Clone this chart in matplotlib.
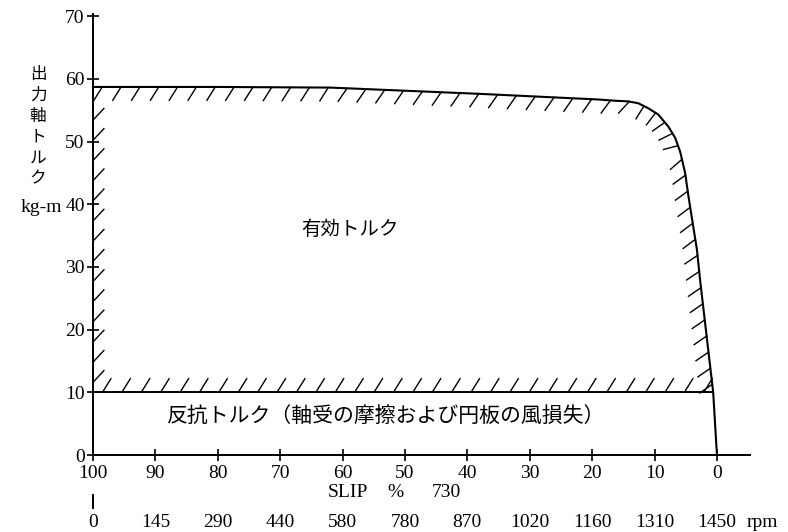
import matplotlib
matplotlib.use("Agg")
import matplotlib.pyplot as plt
import matplotlib.patheffects as pe
import matplotlib.transforms as mtransforms

# ---------- Data ----------
slip_ticks = [100, 90, 80, 70, 60, 50, 40, 30, 20, 10, 0]
rpm_labels = ["0", "145", "290", "440", "580", "780", "870", "1020", "1160", "1310", "1450"]
torque_ticks = [0, 10, 20, 30, 40, 50, 60, 70]

# output shaft torque vs slip
curve_slip = [100, 80, 62, 38, 19, 16.3, 14.2, 12.6, 11.0, 9.4, 7.8, 6.7, 5.9, 5.1, 4.6, 3.2, 2.7, 0.6, 0]
curve_torque = [58.7, 58.7, 58.6, 57.6, 56.7, 56.5, 56.4, 56.1, 55.3, 54.3, 52.4, 50.6, 48.4, 45.0, 41.5, 32.7, 27.9, 10, 0]

# resisting torque (bearing friction + disc windage)
resist_slip = [100, 0.6]
resist_torque = [10, 10]

# hatched edge along the torque axis
left_slip = [100, 100]
left_torque = [10, 55]

SERIF = ["Liberation Serif", "Noto Sans CJK JP"]
JP = ["Noto Sans CJK JP"]

# ---------- Figure ----------
fig = plt.figure(figsize=(7.88, 5.32), dpi=100)
ax = fig.add_axes([93 / 788, 77 / 532, 657 / 788, 441.4 / 532])
ax.set_xlim(100, -5.3)
ax.set_ylim(0, 70.4)

for s in ["top", "right"]:
    ax.spines[s].set_visible(False)
for s in ["left", "bottom"]:
    ax.spines[s].set_linewidth(1.4)

ax.set_xticks(slip_ticks)
ax.set_xticklabels([str(v) for v in slip_ticks])
ax.set_yticks(torque_ticks)
ax.set_yticklabels([str(v) for v in torque_ticks])
ax.tick_params(direction="inout", length=8, width=1.2, labelsize=14, colors="black")
ax.tick_params(axis="x", pad=3)
ax.tick_params(axis="y", pad=2)
for lab in ax.get_xticklabels() + ax.get_yticklabels():
    lab.set_family(SERIF)

# main curve and resisting torque line
ax.plot(curve_slip, curve_torque, color="black", lw=1.5, solid_joinstyle="round", clip_on=False)
ax.plot(resist_slip, resist_torque, color="black", lw=1.4)

# hatching (ticks only)
def hatch(xs, ys, spacing, angle, length):
    ax.plot(xs, ys, color="black", lw=0,
            path_effects=[pe.TickedStroke(spacing=spacing, angle=angle, length=length, linewidth=1.0)])

n_top = curve_slip.index(12.6) + 1
n_bend = curve_slip.index(5.9) + 1
n_end = curve_slip.index(0.6) + 1
hatch(curve_slip[:n_top], curve_torque[:n_top], 13.3, -122, 0.85)
hatch(curve_slip[n_top - 1:n_bend], curve_torque[n_top - 1:n_bend], 9.0, -95, 1.2)
hatch(curve_slip[n_bend - 1:n_end], curve_torque[n_bend - 1:n_end], 11.5, -62, 0.95)
hatch(resist_slip, resist_torque, 13.6, 58, 0.85)
hatch(left_slip, left_torque, 14.4, -43, 0.8)

# area labels
ax.text(58.8, 35.9, "有効トルク", family=JP, fontsize=14, ha="center", va="center")
ax.text(53, 6.3, "反抗トルク（軸受の摩擦および円板の風損失）", family=JP, fontsize=15,
        ha="center", va="center")

# second row: SLIP %, third row: rpm
trans = mtransforms.blended_transform_factory(ax.transData, ax.transAxes)
ax.text(59.1, -0.086, "SLIP", transform=trans, family=SERIF, fontsize=14, ha="center", va="center")
ax.text(51.6, -0.086, "%", transform=trans, family=SERIF, fontsize=14, ha="center", va="center")
ax.text(43.4, -0.086, "730", transform=trans, family=SERIF, fontsize=14, ha="center", va="center")
ax.plot([100, 100], [-0.091, -0.12], transform=trans, color="black", lw=1.4, clip_on=False)
for s, lab in zip(slip_ticks, rpm_labels):
    ax.text(s, -0.152, lab, transform=trans, family=SERIF, fontsize=14, ha="center", va="center")
ax.text(-4.8, -0.152, "rpm", transform=trans, family=SERIF, fontsize=14, ha="left", va="center")

# y label
fig.text(38 / 788, 1 - 127 / 532, "出\n力\n軸\nト\nル\nク", family=JP, fontsize=12,
         ha="center", va="center", linespacing=1.3)
fig.text(41 / 788, 1 - 207 / 532, "kg-m", family=SERIF, fontsize=14, ha="center", va="center")

fig.savefig("out.png", dpi=100)
